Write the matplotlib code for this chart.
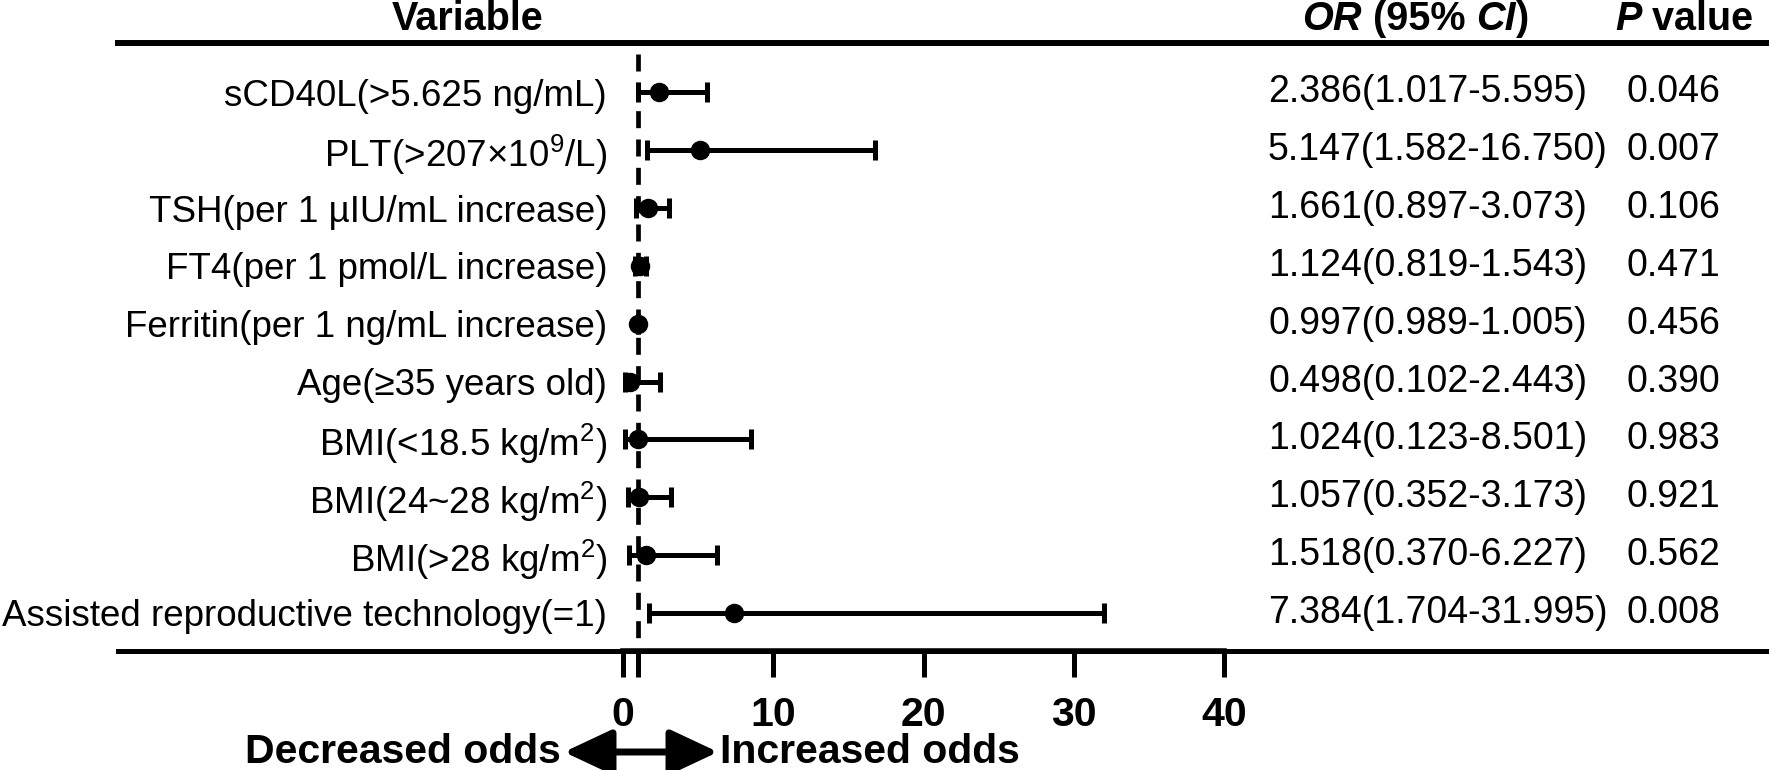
import matplotlib
matplotlib.use("Agg")
import matplotlib.pyplot as plt
import matplotlib.transforms as mtransforms
from matplotlib.lines import Line2D

plt.rcParams['font.family'] = ['Liberation Sans', 'DejaVu Sans']
plt.rcParams['mathtext.fontset'] = 'custom'
plt.rcParams['mathtext.rm'] = 'Liberation Sans'
plt.rcParams['mathtext.it'] = 'Liberation Sans:italic'

# ===================== data =====================
variables = [
    "sCD40L(>5.625 ng/mL)",
    "PLT(>207×10$^{9}$/L)",
    "TSH(per 1 µIU/mL increase)",
    "FT4(per 1 pmol/L increase)",
    "Ferritin(per 1 ng/mL increase)",
    "Age(≥35 years old)",
    "BMI(<18.5 kg/m$^{2}$)",
    "BMI(24~28 kg/m$^{2}$)",
    "BMI(>28 kg/m$^{2}$)",
    "Assisted reproductive technology(=1)",
]
odds = [2.386, 5.147, 1.661, 1.124, 0.997, 0.498, 1.024, 1.057, 1.518, 7.384]
ci_low = [1.017, 1.582, 0.897, 0.819, 0.989, 0.102, 0.123, 0.352, 0.370, 1.704]
ci_high = [5.595, 16.750, 3.073, 1.543, 1.005, 2.443, 8.501, 3.173, 6.227, 31.995]
p_values = ["0.046", "0.007", "0.106", "0.471", "0.456", "0.390", "0.983", "0.921", "0.562", "0.008"]
x_ticks = [0, 10, 20, 30, 40]

W, H = 1769, 770
fig = plt.figure(figsize=(W / 100, H / 100), dpi=100)

# axes placed in pixel units (left, bottom, right, top measured from top-left)
ax_l, ax_r, ax_t, ax_b = 623, 1224, 43, 651
ax = fig.add_axes([ax_l / W, 1 - ax_b / H, (ax_r - ax_l) / W, (ax_b - ax_t) / H])

rows = list(range(len(variables)))
err = [[o - l for o, l in zip(odds, ci_low)], [h - o for o, h in zip(odds, ci_high)]]

ax.errorbar(odds, rows, xerr=err, fmt='o', color='black', ms=13,
            elinewidth=3.6, capsize=7.2, capthick=3.6, zorder=3)
ax.plot([1, 1], [-0.67, 9.62], color='black', lw=3.4, ls=(0, (3.6, 2.4)), zorder=2)

ax.set_xlim(0, 40)
ax.set_ylim(9.66, -0.856)
ax.set_xticks(x_ticks)
ax.set_xticks([1], minor=True)
ax.set_xticklabels([str(t) for t in x_ticks], fontsize=29.5, fontweight='bold')
ax.tick_params(axis='x', which='both', direction='out', length=19, width=3.6, pad=13.5)
ax.set_yticks(rows)
ax.set_yticklabels(variables, fontsize=26.5)
ax.tick_params(axis='y', length=0, pad=11.5)
for s in ['top', 'left', 'right']:
    ax.spines[s].set_visible(False)
ax.spines['bottom'].set_linewidth(4)

# horizontal rules
fig.add_artist(Line2D([118 / W, 1], [1 - 43 / H] * 2, color='black', lw=4.3))
fig.add_artist(Line2D([118 / W, 1], [1 - 651 / H] * 2, color='black', lw=3.6))

# ===================== columns =====================
trans = mtransforms.blended_transform_factory(fig.transFigure, ax.transData)
for r, o, l, h, p in zip(rows, odds, ci_low, ci_high, p_values):
    ax.text(1268 / W, r, f"{o:.3f}({l:.3f}-{h:.3f})", transform=trans,
            ha='left', va='center', fontsize=27)
    ax.text(1673 / W, r, p, transform=trans, ha='center', va='center', fontsize=27)

# headers
hy = 1 - 19 / H
fig.text(468 / W, hy, "Variable", ha='center', va='center', fontsize=28.5, fontweight='bold')

renderer = fig.canvas.get_renderer()


def chain_text(x_px, y, pieces, size=28.5):
    # draw pieces of text one after another, starting at x_px
    x = x_px
    for txt, style in pieces:
        t = fig.text(x / W, y, txt, ha='left', va='center', fontsize=size,
                     fontweight='bold', fontstyle=style)
        bb = t.get_window_extent(renderer)
        x += bb.width


chain_text(1302, hy, [("OR", 'italic'), (" (95% ", 'normal'), ("CI", 'italic'), (")", 'normal')])
chain_text(1615, hy, [("P", 'italic'), (" value", 'normal')])

# direction arrow
ay = 1 - 752 / H
ax.annotate('', xy=(564 / W, ay), xytext=(718 / W, ay), xycoords='figure fraction',
            textcoords='figure fraction',
            arrowprops=dict(arrowstyle='<|-|>,head_length=0.98,head_width=0.46',
                            mutation_scale=30, lw=5, color='black',
                            shrinkA=0, shrinkB=0))
fig.text(561 / W, ay, "Decreased odds", ha='right', va='center', fontsize=29.5, fontweight='bold')
fig.text(720 / W, ay, "Increased odds", ha='left', va='center', fontsize=29.5, fontweight='bold')

fig.savefig("out.png", dpi=100)
